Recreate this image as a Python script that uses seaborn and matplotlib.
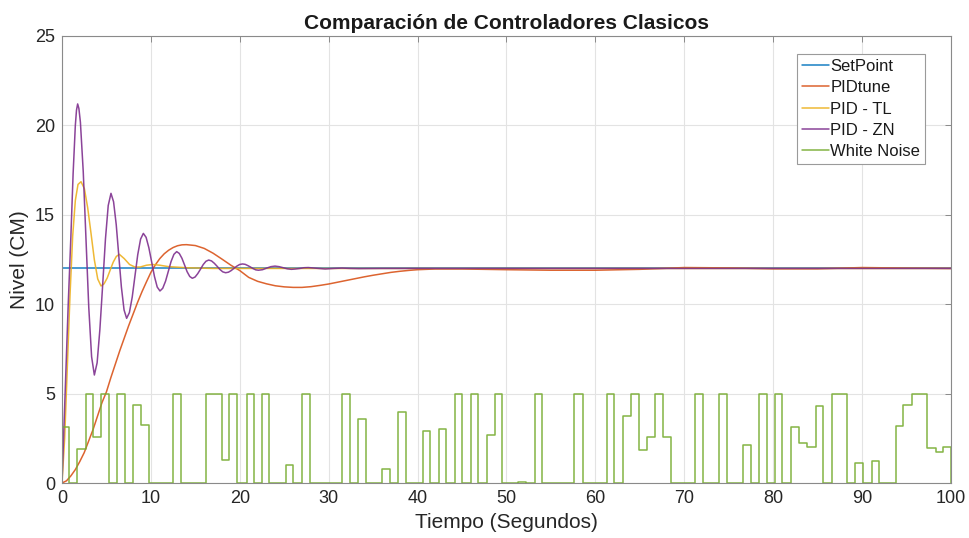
import matplotlib
matplotlib.use("Agg")
import matplotlib.pyplot as plt
import seaborn as sns
import pandas as pd

# ---------------- data ----------------
sp_t = [0, 100]
sp_v = [12, 12]

or_t = [0, 0.5, 1.0, 1.5, 2.0, 2.5, 3.0, 3.5, 4.0, 4.5, 5.0, 5.5, 6.0, 6.5, 7.0, 7.5,
        8.0, 8.5, 9.0, 9.5, 10.0, 10.5, 11, 11.5, 12, 12.5, 13, 13.5, 14, 15, 16, 17,
        18, 19, 19.6, 20, 21, 22, 23, 24, 25, 26, 27, 28, 29, 30, 31, 32, 33, 34, 35,
        36, 37, 38, 39, 40, 42, 45, 50, 55, 60, 65, 70, 75, 80, 85, 90, 95, 100]
or_v = [0, 0.12, 0.4, 0.75, 1.2, 1.7, 2.35, 3.0, 3.75, 4.5, 5.1, 5.9, 6.65, 7.4, 8.1, 8.8,
        9.45, 10.1, 10.7, 11.25, 11.78, 12.2, 12.55, 12.82, 13.02, 13.17, 13.27, 13.32, 13.33,
        13.28, 13.12, 12.85, 12.52, 12.18, 12.0, 11.88, 11.5, 11.28, 11.14, 11.03, 10.97,
        10.94, 10.94, 10.98, 11.05, 11.13, 11.23, 11.33, 11.43, 11.53, 11.62, 11.7, 11.78,
        11.84, 11.89, 11.93, 11.97, 11.97, 11.93, 11.9, 11.9, 11.95, 12.05, 12.03, 11.98,
        11.98, 12.05, 12.02, 12.0]

tl_t = [0, 0.3, 0.6, 0.9, 1.2, 1.5, 1.8, 2.14, 2.52, 2.89, 3.27, 3.64, 4.02, 4.39, 4.73,
        5.08, 5.42, 5.76, 6.11, 6.45, 7.0, 7.6, 8.2, 8.8, 9.5, 10.2, 11.0, 12.0, 14.0,
        17.0, 20.0, 100]
tl_v = [0, 2.5, 6.5, 10.5, 13.8, 15.8, 16.7, 16.85, 16.46, 15.39, 13.94, 12.48, 11.41,
        11.02, 11.14, 11.46, 11.91, 12.35, 12.67, 12.79, 12.55, 12.22, 12.08, 12.08, 12.18,
        12.22, 12.18, 12.10, 12.04, 12.0, 12.0, 12.0]

zn_t = [0, 0.35, 0.7, 1.0, 1.25, 1.5, 1.63, 1.76, 1.9, 2.07, 2.39, 2.70, 3.01, 3.33, 3.64,
        3.95, 4.26, 4.58, 4.89, 5.20, 5.51, 5.80, 6.10, 6.39, 6.68, 6.98, 7.27, 7.58, 7.90,
        8.21, 8.52, 8.84, 9.15, 9.46, 9.77, 10.09, 10.40, 10.71, 11.02, 11.33, 11.65,
        11.96, 12.27, 12.59, 12.9, 13.19, 13.49, 13.78, 14.07, 14.37, 14.66, 14.97, 15.27,
        15.58, 15.89, 16.19, 16.5, 16.82, 17.13, 17.45, 17.77, 18.08, 18.4, 18.72, 19.03,
        19.35, 19.67, 19.98, 20.3, 20.6, 20.9, 21.2, 21.5, 21.8, 22.1, 22.56, 23.03, 23.5,
        23.96, 24.42, 24.88, 25.34, 25.8, 26.27, 26.75, 27.22, 27.7, 28.65, 29.6, 30.55,
        31.5, 32.45, 33.4, 36, 40, 100]
zn_v = [0, 5, 10, 13.8, 17.3, 20.0, 20.85, 21.2, 20.95, 20.18, 17.41, 13.62, 9.83, 7.06,
        6.04, 6.72, 8.58, 11.12, 13.66, 15.52, 16.2, 15.73, 14.45, 12.70, 10.96, 9.68,
        9.21, 9.53, 10.40, 11.59, 12.77, 13.64, 13.96, 13.74, 13.16, 12.35, 11.55, 10.96,
        10.74, 10.89, 11.29, 11.84, 12.39, 12.79, 12.94, 12.84, 12.57, 12.20, 11.82, 11.55,
        11.45, 11.52, 11.71, 11.96, 12.22, 12.40, 12.47, 12.42, 12.29, 12.12, 11.94, 11.81,
        11.76, 11.79, 11.88, 12.01, 12.13, 12.22, 12.25, 12.23, 12.16, 12.08, 11.99, 11.92,
        11.90, 11.93, 12.02, 12.10, 12.13, 12.10, 12.04, 11.98, 11.95, 11.97, 12.0, 12.04,
        12.05, 12.01, 11.97, 12.0, 12.02, 12.0, 11.99, 12.0, 12.0, 12.0]

noise_t = [0, 0, 0.79, 1.72, 2.66, 3.53, 4.35, 5.32, 6.15, 7.09, 8.02, 8.89, 9.79, 12.52,
           13.39, 16.2, 17.13, 17.96, 18.8, 19.65, 20.77, 21.6, 22.5, 23.3, 25.2, 26.0,
           27.03, 27.9, 31.53, 32.4, 33.33, 34.2, 36.03, 36.9, 37.83, 38.7, 40.57, 41.4,
           42.4, 43.2, 44.2, 45.0, 45.97, 46.83, 47.77, 48.7, 49.53, 51.3, 52.2, 53.2,
           54.03, 57.6, 58.57, 61.27, 62.13, 63.07, 63.97, 64.9, 65.84, 66.7, 67.57, 68.47,
           71.2, 72.07, 73.9, 74.77, 76.64, 77.46, 78.44, 79.26, 80.2, 81.03, 82.0, 82.94,
           83.84, 84.78, 85.64, 86.58, 88.26, 89.2, 90.14, 91.08, 91.93, 93.78, 94.64,
           95.58, 97.34, 98.28, 99.1, 100]
noise_v = [0, 3.11, 0, 1.9, 5, 2.59, 5, 0, 5, 0, 4.36, 3.24, 0, 5, 0, 5, 4.95, 1.29, 5, 0,
           5, 0, 5, 0, 1.0, 0, 5, 0, 5, 0, 3.56, 0, 0.76, 0, 3.95, 0, 2.89, 0, 3.04, 0, 5,
           0, 5, 0, 2.67, 5, 0, 0.06, 0, 5, 0, 5, 0, 5, 0, 3.75, 4.96, 1.85, 2.59, 5, 2.59,
           0, 5, 0, 5, 0, 2.13, 0, 5, 0, 5, 0, 3.15, 2.22, 2.03, 4.31, 0, 5, 0, 1.1, 0,
           1.25, 0, 3.19, 4.36, 5, 1.94, 1.75, 2.0, 0]

labels = ["SetPoint", "PIDtune", "PID - TL", "PID - ZN", "White Noise"]
colors = ["#0072BD", "#D95319", "#EDB120", "#7E2F8E", "#77AC30"]
x_ticks = [0, 10, 20, 30, 40, 50, 60, 70, 80, 90, 100]
y_ticks = [0, 5, 10, 15, 20, 25]

# ---------------- style ----------------
sns.set_theme(style="white")
plt.rcParams["font.family"] = ["Liberation Sans", "DejaVu Sans"]
plt.rcParams["axes.unicode_minus"] = False

fig = plt.figure(figsize=(9.7, 5.38), dpi=100)
ax = fig.add_axes([62 / 970, 1 - 483 / 538, 889 / 970, 447 / 538])

series = [(sp_t, sp_v), (or_t, or_v), (tl_t, tl_v), (zn_t, zn_v)]
for (t, v), lab, col in zip(series, labels[:4], colors[:4]):
    df = pd.DataFrame({"t": t, "v": v})
    sns.lineplot(data=df, x="t", y="v", ax=ax, color=col, label=lab,
                 linewidth=1.1, estimator=None, sort=False, alpha=0.9)

df_n = pd.DataFrame({"t": noise_t, "v": noise_v})
sns.lineplot(data=df_n, x="t", y="v", ax=ax, color=colors[4], label=labels[4],
             linewidth=1.1, estimator=None, sort=False, drawstyle="steps-post", alpha=0.9)

ax.set_xlim(0, 100)
ax.set_ylim(0, 25)
ax.set_xticks(x_ticks)
ax.set_yticks(y_ticks)
ax.grid(True, color="#e3e3e3", linewidth=0.8)
ax.set_axisbelow(True)
for s in ax.spines.values():
    s.set_color("#8a8a8a")
    s.set_linewidth(0.8)
ax.tick_params(direction="in", length=4, width=0.7, color="#8a8a8a",
               top=True, right=True, labelsize=13, labelcolor="#262626", pad=5)

ax.set_title("Comparación de Controladores Clasicos", fontsize=15,
             fontweight="bold", color="#1a1a1a", pad=5)
ax.set_xlabel("Tiempo (Segundos)", fontsize=15, color="#262626", labelpad=4)
ax.set_ylabel("Nivel (CM)", fontsize=15, color="#262626", labelpad=4)

leg = ax.legend(loc="upper right", bbox_to_anchor=(0.971, 0.960), fontsize=12,
                frameon=True, fancybox=False, edgecolor="#9a9a9a", framealpha=1,
                handlelength=1.6, handletextpad=0.1, labelspacing=0.38,
                borderpad=0.3, borderaxespad=0)
leg.get_frame().set_linewidth(0.8)
for txt in leg.get_texts():
    txt.set_color("#1a1a1a")

fig.savefig("out.png", dpi=100)
